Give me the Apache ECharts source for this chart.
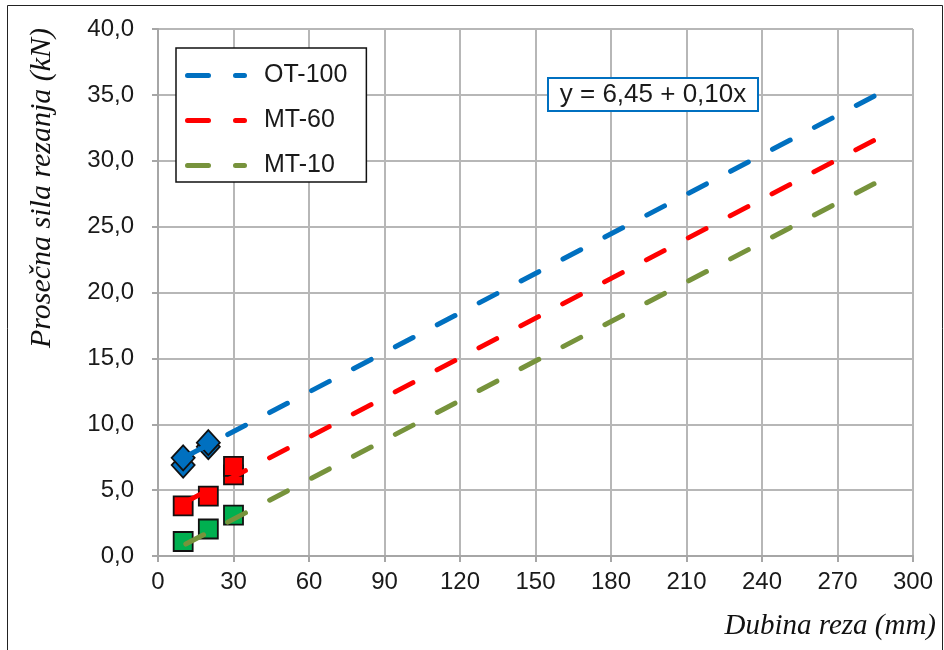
<!DOCTYPE html>
<html>
<head>
<meta charset="utf-8">
<script src="https://cdn.jsdelivr.net/npm/echarts@6/dist/echarts.min.js"></script>
<style>html,body{margin:0;padding:0;background:#fff}#c{width:944px;height:650px}</style>
</head>
<body>
<div id="c"></div>
<script>
// ---- data ----
var seriesNames = ['OT-100', 'MT-60', 'MT-10'];
var otPoints = [[10, 6.9], [10, 7.45], [20, 8.3], [20, 8.6]];
var mt60Points = [[10, 3.8], [20, 4.55], [30, 6.15], [30, 6.8]];
var mt10Points = [[10, 1.1], [20, 2.05], [30, 3.1]];
var otTrend = [[10, 7.45], [285, 34.95]];
var mt60Trend = [[10, 4.0], [285, 31.6]];
var mt10Trend = [[10, 0.8], [285, 28.3]];
var equationText = 'y = 6,45 + 0,10x';
var xTitle = 'Dubina reza (mm)';
var yTitle = 'Prosečna sila rezanja (kN)';

var blue = '#0070C0', red = '#FF0000', green = '#77933C';
var legendIcon = 'path://M2.5,0 L23.5,0 A2.5,2.5 0 0 1 23.5,5 L2.5,5 A2.5,2.5 0 0 1 2.5,0 Z M50.5,0 L59.5,0 A2.5,2.5 0 0 1 59.5,5 L50.5,5 A2.5,2.5 0 0 1 50.5,0 Z';

function trend(name, data, color) {
  return {
    name: name, type: 'line', data: data, symbol: 'none', z: 3,
    lineStyle: { color: color, width: 5, type: [20, 27.3], dashOffset: -3, cap: 'round' },
    itemStyle: { color: color }
  };
}
function pts(name, data, symbol, size, fill) {
  return {
    name: name, type: 'scatter', data: data, symbol: symbol, symbolSize: size, z: 2,
    itemStyle: { color: fill, borderColor: '#111', borderWidth: 1.8, opacity: 1 }
  };
}

var chart = echarts.init(document.getElementById('c'));
chart.setOption({
  animation: false,
  backgroundColor: '#fff',
  grid: { left: 158, right: 31, top: 29, bottom: 94 },
  xAxis: {
    type: 'value', min: 0, max: 300, interval: 30,
    axisLine: { show: true, lineStyle: { color: '#a6a6a6', width: 2 } },
    axisTick: { show: true, length: 6, lineStyle: { color: '#a6a6a6', width: 2 } },
    splitLine: { show: true, lineStyle: { color: '#b7b7b7', width: 2 } },
    axisLabel: { margin: 14, fontFamily: 'Liberation Sans', fontSize: 24, color: '#1a1a1a' }
  },
  yAxis: {
    type: 'value', min: 0, max: 40, interval: 5,
    axisLine: { show: true, lineStyle: { color: '#a6a6a6', width: 2 } },
    axisTick: { show: true, length: 6, lineStyle: { color: '#a6a6a6', width: 2 } },
    splitLine: { show: true, lineStyle: { color: '#b7b7b7', width: 2 } },
    axisLabel: {
      margin: 24, fontFamily: 'Liberation Sans', fontSize: 24, color: '#1a1a1a',
      formatter: function (v) { return v.toFixed(1).replace('.', ','); }
    }
  },
  legend: {
    orient: 'vertical', left: 176, top: 48,
    data: seriesNames.map(function (n) { return { name: n, icon: legendIcon }; }),
    itemWidth: 62, itemHeight: 6, itemGap: 20,
    padding: [15, 19, 4, 9],
    borderColor: '#111', borderWidth: 1.5, backgroundColor: '#fff',
    textStyle: { fontFamily: 'Liberation Sans', fontSize: 25, color: '#1a1a1a', lineHeight: 20, padding: [0, 0, 0, 12] }
  },
  series: [
    trend(seriesNames[0], otTrend, blue),
    trend(seriesNames[1], mt60Trend, red),
    trend(seriesNames[2], mt10Trend, green),
    pts('OT-100 data', otPoints, 'diamond', [23, 25], blue),
    pts('MT-60 data', mt60Points, 'rect', 19, red),
    pts('MT-10 data', mt10Points, 'rect', 19, '#00B050')
  ],
  graphic: [
    { type: 'rect', shape: { x: 7.5, y: 5.5, width: 935, height: 660 }, style: { fill: 'none', stroke: '#222', lineWidth: 1 }, silent: true },
    { type: 'rect', shape: { x: 548, y: 78, width: 210, height: 33 }, style: { fill: '#fff', stroke: blue, lineWidth: 2 }, z: 10 },
    { type: 'text', x: 653, y: 95, z: 11, style: { text: equationText, fontFamily: 'Liberation Sans', fontSize: 26, fill: '#1a1a1a', align: 'center', verticalAlign: 'middle' } },
    { type: 'text', x: 936, y: 626, style: { text: xTitle, fontFamily: 'Liberation Serif', fontStyle: 'italic', fontSize: 29, fill: '#111', align: 'right', verticalAlign: 'middle' } },
    { type: 'text', x: 42, y: 188, rotation: Math.PI / 2, style: { text: yTitle, fontFamily: 'Liberation Serif', fontStyle: 'italic', fontSize: 30, fill: '#111', align: 'center', verticalAlign: 'middle' } }
  ]
});
</script>
</body>
</html>
